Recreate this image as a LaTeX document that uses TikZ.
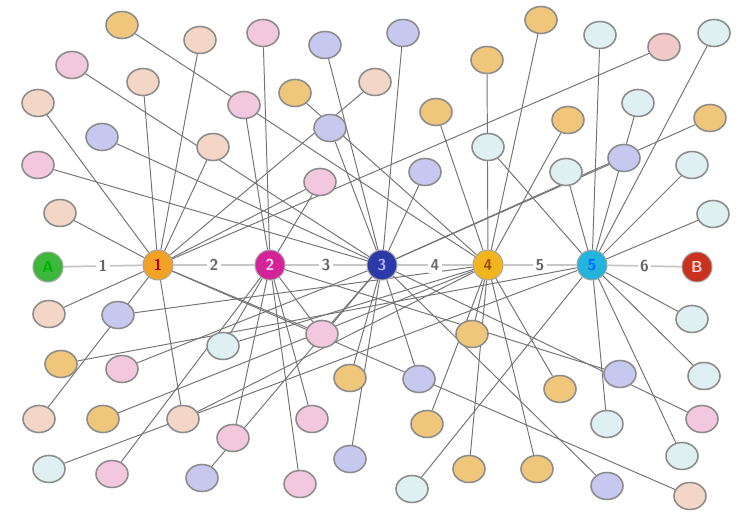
\documentclass[tikz,border=0pt]{standalone}
\usetikzlibrary{shapes.geometric,backgrounds}

\definecolor{peach}{HTML}{F4D6C6}
\definecolor{rose}{HTML}{F3C8DE}
\definecolor{lilac}{HTML}{C6C8F0}
\definecolor{gold}{HTML}{F0C77A}
\definecolor{ice}{HTML}{DFF0F3}
\definecolor{salmon}{HTML}{F2C8C8}

\tikzset{
  leaf/.style={ellipse, minimum width=0.64cm, minimum height=0.54cm, inner sep=0pt,
    draw=black!45, line width=0.9pt},
  hub/.style={circle, minimum size=0.6cm, inner sep=0pt, draw=black!35, line width=0.6pt,
    font=\small\bfseries\sffamily},
  link/.style={black!55, line width=0.55pt},
  chain/.style={black!22, line width=1pt},
  hop/.style={fill=white, inner sep=1.5pt, text=black!60, font=\small\bfseries\sffamily}
}

\begin{document}
\begin{tikzpicture}[x=0.02cm, y=-0.02cm]
  \useasboundingbox (0,0) rectangle (744,516);

  % the chain from A to B
  \node[hub, fill={rgb,255:red,61;green,184;blue,61}, text=green!70!black] (A) at (48,267) {A};
  \node[hub, fill={rgb,255:red,242;green,162;blue,39}, text=red!70!black] (h1) at (158,265) {1};
  \node[hub, fill={rgb,255:red,212;green,35;blue,153}, text=white!85!magenta] (h2) at (270,265) {2};
  \node[hub, fill={rgb,255:red,43;green,58;blue,168}, text=white!70!blue] (h3) at (382,265) {3};
  \node[hub, fill={rgb,255:red,242;green,181;blue,30}, text=orange!60!black] (h4) at (488,265) {4};
  \node[hub, fill={rgb,255:red,34;green,180;blue,220}, text=blue!60!cyan] (h5) at (592,265) {5};
  \node[hub, fill={rgb,255:red,200;green,50;blue,30}, text=white!85!red] (B) at (697,267) {B};

  % acquaintances above the chain
  \foreach \n/\x/\y/\c in {u1/122/25/gold, u2/200/40/peach, u3/263/33/rose, u4/325/45/lilac,
      u5/403/33/lilac, u6/487/60/gold, u7/541/20/gold, u8/600/35/ice, u9/664/47/salmon,
      u10/714/33/ice, u11/72/65/rose, u12/143/82/peach, u13/244/105/rose, u14/295/93/gold,
      u15/375/82/peach, u16/38/103/peach, u17/102/137/lilac, u18/213/147/peach,
      u19/330/128/lilac, u20/436/112/gold, u21/568/120/gold, u22/638/103/ice,
      u23/710/118/gold, u24/38/165/rose, u25/320/182/rose, u26/425/172/lilac,
      u27/488/147/ice, u28/566/172/ice, u29/624/158/lilac, u30/692/165/ice,
      u31/60/213/peach, u32/713/214/ice}
    \node[leaf, fill=\c] (\n) at (\x,\y) {};

  % acquaintances below the chain
  \foreach \n/\x/\y/\c in {d1/49/314/peach, d2/118/315/lilac, d3/61/364/gold, d4/122/369/rose,
      d5/223/346/ice, d6/322/334/rose, d7/350/378/gold, d8/39/419/peach, d9/103/419/gold,
      d10/183/419/peach, d11/233/438/rose, d12/312/419/rose, d13/49/469/ice,
      d14/112/474/rose, d15/202/478/lilac, d16/300/484/rose, d17/350/459/lilac,
      d18/472/334/gold, d19/419/379/lilac, d20/560/389/gold, d21/620/374/lilac,
      d22/692/319/ice, d23/704/376/ice, d24/427/424/gold, d25/607/424/ice,
      d26/702/419/rose, d27/682/456/ice, d28/469/469/gold, d29/537/469/gold,
      d30/412/489/ice, d31/607/486/lilac, d32/690/496/peach}
    \node[leaf, fill=\c] (\n) at (\x,\y) {};

  \begin{scope}[on background layer]
    \foreach \a/\b in {u1/h4, u2/h1, u3/h2, u4/h3, u5/h3, u6/h4, u7/h4, u8/h5, u9/h1,
        u10/h5, u11/h3, u12/h1, u13/h2, u14/h4, u15/h1, u16/h1, u17/h3, u18/h1, u19/h3,
        u20/h4, u21/h4, u22/h5, u23/h3, u24/h3, u25/h2, u25/h1, u26/h3, u27/h5,
        u28/h5, u29/h3, u30/h5, u31/h1, u32/h5,
        d1/h1, d2/h4, d3/h5, d4/h3, d5/h2, d5/h4, d6/h1, d6/h2, d6/h3, d7/h3,
        d8/h1, d9/h4, d10/h1, d10/h4, d11/h2, d12/h2, d13/h5, d14/h2, d15/h3,
        d16/h2, d17/h3, d18/h4, d19/h3, d20/h4, d21/h2, d22/h5, d23/h5, d24/h4, d25/h5,
        d26/h3, d27/h5, d28/h4, d29/h4, d30/h5, d31/h3, d32/h1}
      \draw[link] (\a) -- (\b);
    \draw[chain] (A) -- node[hop] {1} (h1) -- node[hop] {2} (h2) -- node[hop] {3} (h3)
      -- node[hop] {4} (h4) -- node[hop] {5} (h5) -- node[hop] {6} (B);
  \end{scope}
\end{tikzpicture}
\end{document}
